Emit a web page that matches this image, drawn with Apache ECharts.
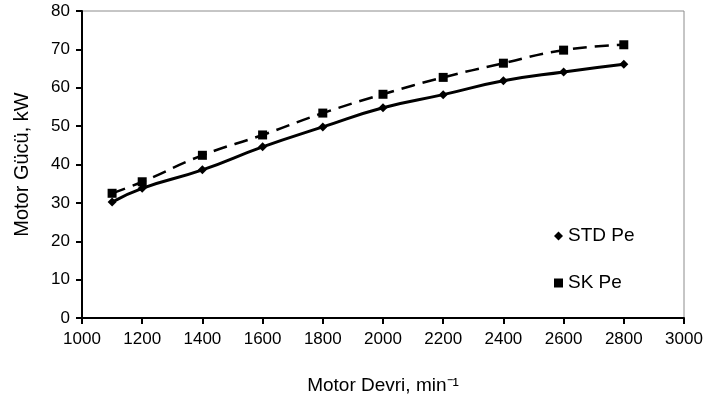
<!DOCTYPE html>
<html>
<head>
<meta charset="utf-8">
<script src="https://cdn.jsdelivr.net/npm/echarts@6/dist/echarts.min.js"></script>
<style>
  html, body { margin: 0; padding: 0; background: #fff; }
  #chart { width: 710px; height: 401px; }
</style>
</head>
<body>
<div id="chart"></div>
<script>
// motor speed (min^-1) and power (kW)
var devri = [1100, 1200, 1400, 1600, 1800, 2000, 2200, 2400, 2600, 2800];
var stdPe = [30.2, 33.8, 38.6, 44.6, 49.8, 54.8, 58.2, 61.8, 64.1, 66.1];
var skPe = [32.5, 35.5, 42.4, 47.7, 53.4, 58.3, 62.7, 66.4, 69.8, 71.2];

function pairs(xs, ys) {
  var out = [];
  for (var i = 0; i < xs.length; i++) out.push([xs[i], ys[i]]);
  return out;
}

var font = 'Liberation Sans';
var myChart = echarts.init(document.getElementById('chart'));
myChart.setOption({
  animation: false,
  backgroundColor: '#fff',
  textStyle: { fontFamily: font, color: '#000' },
  grid: {
    left: 82, right: 26, top: 11, bottom: 83,
    show: true, borderColor: '#8c8c8c', borderWidth: 1
  },
  legend: {
    orient: 'vertical',
    left: 549, top: 221,
    itemGap: 27,
    itemWidth: 9, itemHeight: 9,
    textStyle: { fontFamily: font, fontSize: 19, lineHeight: 20, color: '#000' },
    data: [
      { name: 'STD Pe', icon: 'diamond' },
      { name: 'SK Pe', icon: 'rect' }
    ]
  },
  xAxis: {
    type: 'value',
    min: 1000, max: 3000, interval: 200,
    name: 'Motor Devri, min⁻¹',
    nameLocation: 'middle', nameGap: 58,
    nameTextStyle: { fontFamily: font, fontSize: 19, color: '#000' },
    axisLine: { lineStyle: { color: '#000', width: 2 } },
    axisTick: { show: true, length: 6, lineStyle: { color: '#000', width: 2 } },
    axisLabel: { fontFamily: font, fontSize: 17, color: '#000', margin: 13,
      formatter: function (v) { return String(v); } },
    splitLine: { show: false }
  },
  yAxis: {
    type: 'value',
    min: 0, max: 80, interval: 10,
    name: 'Motor Gücü, kW',
    nameLocation: 'middle', nameGap: 50,
    nameTextStyle: { fontFamily: font, fontSize: 20, color: '#000' },
    axisLine: { show: true, lineStyle: { color: '#000', width: 2 } },
    axisTick: { show: true, length: 6, lineStyle: { color: '#000', width: 2 } },
    axisLabel: { fontFamily: font, fontSize: 17, color: '#000', margin: 12 },
    splitLine: { show: false }
  },
  series: [
    {
      name: 'STD Pe',
      type: 'line',
      smooth: 0.5,
      data: pairs(devri, stdPe),
      symbol: 'diamond', symbolSize: 9,
      itemStyle: { color: '#000' },
      lineStyle: { color: '#000', width: 3 }
    },
    {
      name: 'SK Pe',
      type: 'line',
      smooth: 0.5,
      data: pairs(devri, skPe),
      symbol: 'rect', symbolSize: 9,
      itemStyle: { color: '#000' },
      lineStyle: { color: '#000', width: 2.5, type: [14, 8] }
    }
  ]
});
</script>
</body>
</html>
